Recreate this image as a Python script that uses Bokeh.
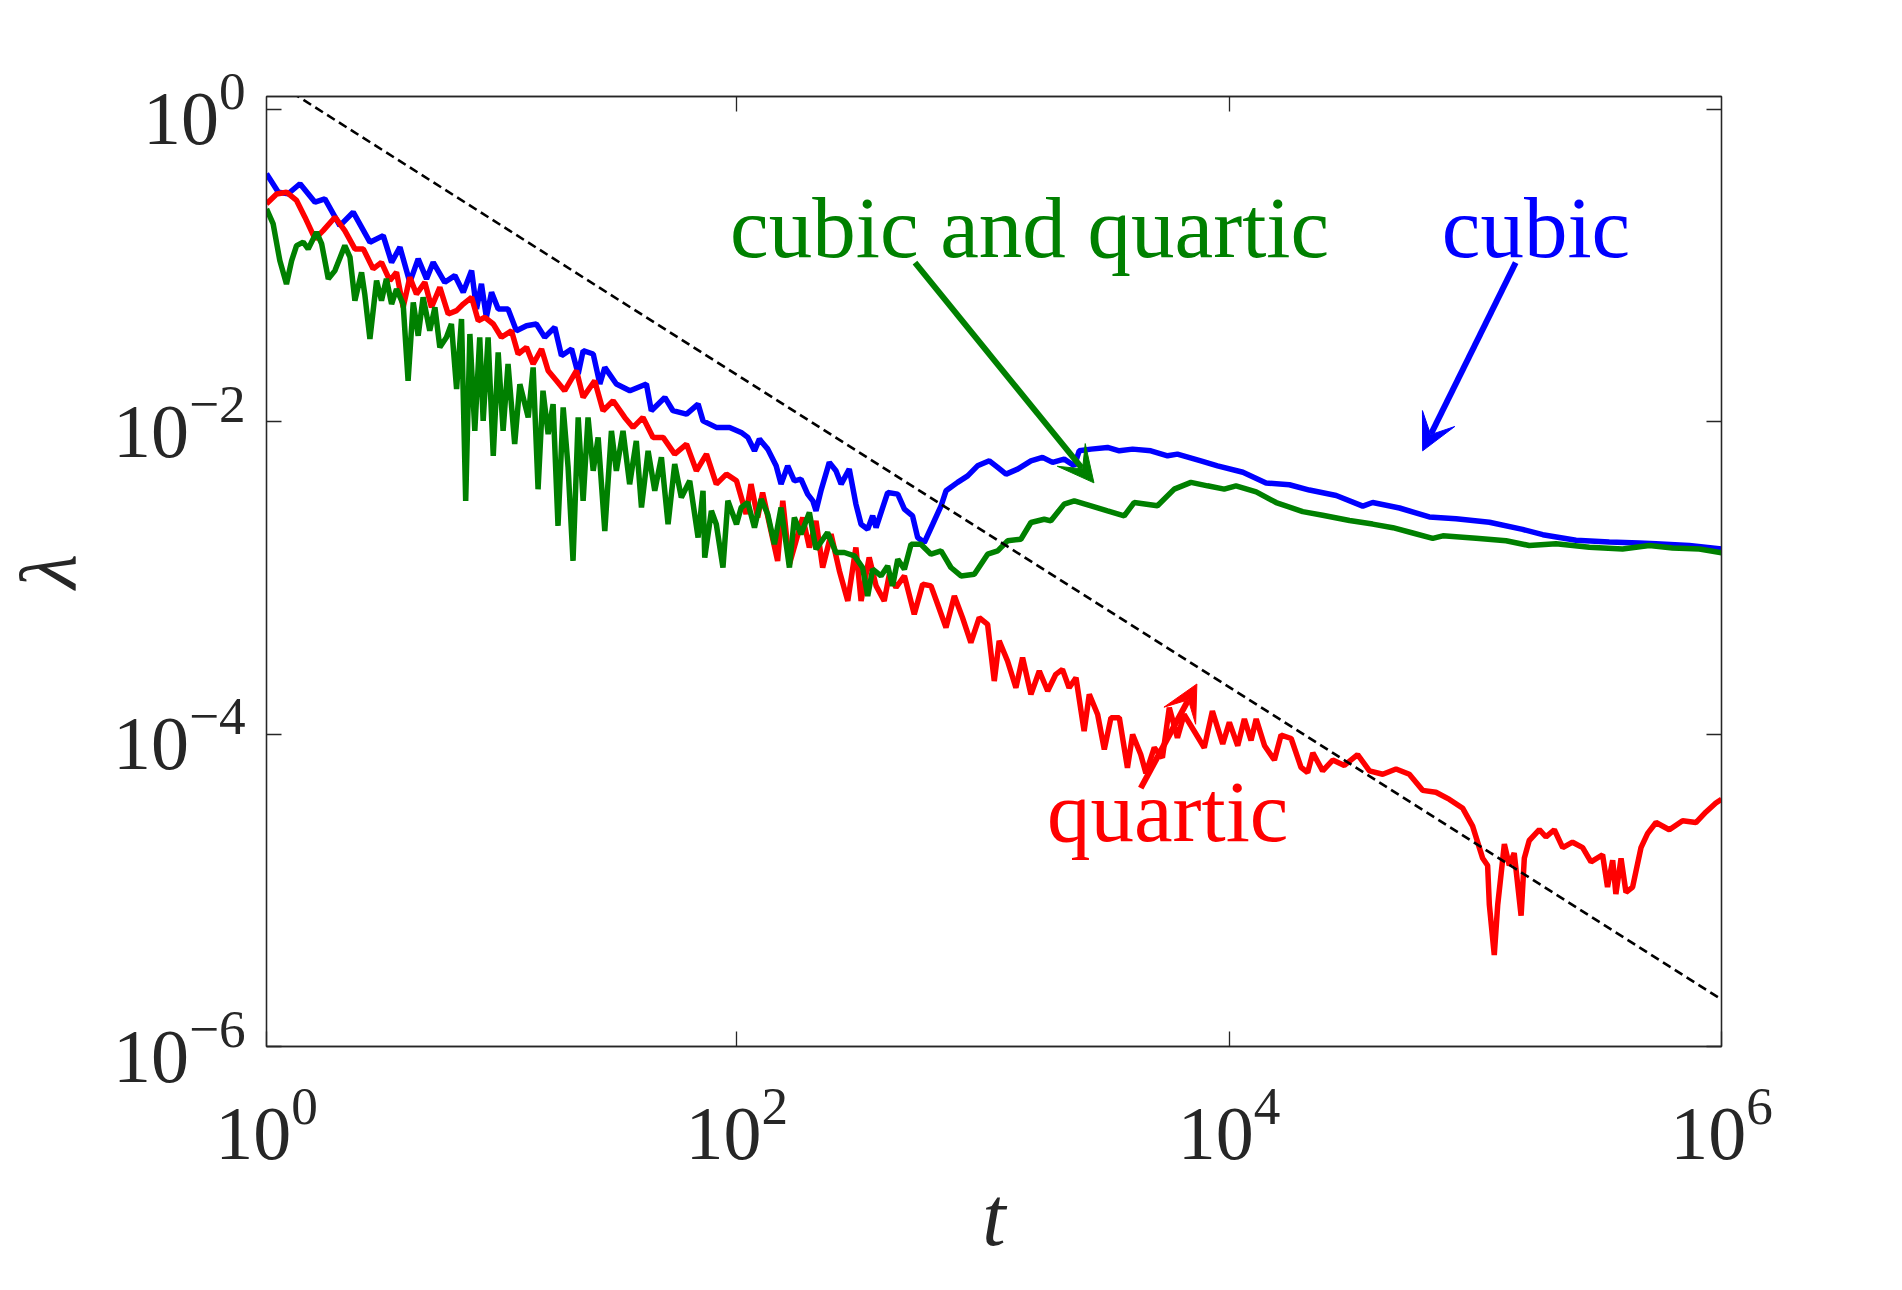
import numpy as np
from bokeh.plotting import figure
from bokeh.models import (Range1d, LogAxis, FixedTicker, Label, Arrow, VeeHead,
                          CustomJSTickFormatter)
from bokeh.embed import file_html
from bokeh.resources import INLINE

# ---------------- data (as log10 values) ----------------
blue_log_t = [0.090, 0.138, 0.178, 0.226, 0.287, 0.327, 0.388, 0.442, 0.510, 0.564, 0.598, 0.632, 0.672,
              0.706, 0.740, 0.767, 0.814, 0.855, 0.889, 0.923, 0.943, 0.963, 0.983, 1.004, 1.031, 1.071,
              1.105, 1.146, 1.186, 1.220, 1.261, 1.288, 1.329, 1.356, 1.376, 1.417, 1.444, 1.464, 1.511,
              1.566, 1.633, 1.653, 1.708, 1.741, 1.796, 1.843, 1.863, 1.917, 1.971,
              2.018, 2.045, 2.072, 2.092, 2.126, 2.160, 2.180, 2.207, 2.234, 2.261, 2.288, 2.309, 2.322,
              2.342, 2.376, 2.403, 2.424, 2.457, 2.484, 2.505, 2.532, 2.552, 2.566, 2.613, 2.654, 2.681,
              2.714, 2.735, 2.762, 2.796, 2.830, 2.850, 2.897, 2.938, 2.978, 3.026, 3.060, 3.094, 3.141,
              3.195, 3.242, 3.283, 3.330, 3.371, 3.391, 3.439, 3.506, 3.554, 3.608, 3.682, 3.750, 3.790,
              3.885, 3.953,
              4.056, 4.150, 4.245, 4.326, 4.435, 4.543, 4.583, 4.692, 4.813, 4.922, 5.057, 5.192, 5.274,
              5.409, 5.544, 5.666, 5.734, 5.869, 6.000]
blue_log_lam = [-0.412, -0.530, -0.540, -0.476, -0.594, -0.573, -0.744, -0.658, -0.850, -0.808, -0.979, -0.882, -1.107,
                -0.957, -1.085, -0.979, -1.107, -1.064, -1.171, -1.032, -1.278, -1.117, -1.331, -1.171, -1.278, -1.278,
                -1.417, -1.385, -1.374, -1.459, -1.395, -1.577, -1.534, -1.694, -1.545, -1.566, -1.758, -1.652, -1.758,
                -1.801, -1.758, -1.929, -1.844, -1.929, -1.951, -1.887, -1.994, -2.036, -2.036,
                -2.068, -2.100, -2.186, -2.111, -2.175, -2.282, -2.399, -2.282, -2.378, -2.367, -2.463, -2.506, -2.570,
                -2.442, -2.260, -2.314, -2.399, -2.303, -2.527, -2.656, -2.688, -2.602, -2.677, -2.453, -2.463, -2.559,
                -2.602, -2.741, -2.773, -2.656, -2.538, -2.442, -2.388, -2.346, -2.282, -2.250, -2.292, -2.335, -2.303,
                -2.250, -2.228, -2.260, -2.239, -2.282, -2.186, -2.175, -2.164, -2.186, -2.175, -2.186, -2.218, -2.207,
                -2.250, -2.282,
                -2.323, -2.392, -2.403, -2.437, -2.472, -2.540, -2.517, -2.552, -2.609, -2.621, -2.643, -2.689, -2.723,
                -2.758, -2.769, -2.776, -2.781, -2.792, -2.815]

red_log_t = [0.090, 0.131, 0.171, 0.212, 0.246, 0.287, 0.320, 0.368, 0.408, 0.449, 0.483, 0.523, 0.557,
             0.591, 0.618, 0.645, 0.672, 0.699, 0.733, 0.760, 0.794, 0.828, 0.862, 0.889, 0.923, 0.950,
             0.977, 1.011, 1.044, 1.085, 1.112, 1.146, 1.173, 1.207, 1.234, 1.268, 1.301, 1.349, 1.376,
             1.423, 1.457, 1.498, 1.545, 1.579, 1.619, 1.660, 1.701, 1.748, 1.796, 1.836, 1.877, 1.917,
             1.958, 1.999,
             2.038, 2.058, 2.085, 2.105, 2.133, 2.166, 2.187, 2.214, 2.241, 2.268, 2.295, 2.322, 2.349,
             2.383, 2.417, 2.451, 2.484, 2.505, 2.538, 2.566, 2.599, 2.620, 2.647, 2.681, 2.721, 2.755,
             2.789, 2.816, 2.850, 2.884, 2.917, 2.951, 2.985, 3.019, 3.046, 3.066, 3.100, 3.134, 3.161,
             3.195, 3.229, 3.263, 3.296, 3.323, 3.350, 3.378, 3.411, 3.432, 3.466, 3.493, 3.520, 3.554,
             3.587, 3.608, 3.641, 3.662, 3.696, 3.729, 3.757, 3.790, 3.817, 3.858, 3.899, 3.932,
             3.974, 4.001, 4.035, 4.062, 4.089, 4.110, 4.144, 4.184, 4.211, 4.252, 4.292, 4.319, 4.340,
             4.380, 4.421, 4.468, 4.522, 4.570, 4.624, 4.678, 4.732, 4.786, 4.840, 4.895, 4.949, 4.989,
             5.030, 5.050, 5.057, 5.077, 5.091, 5.118, 5.138, 5.158, 5.186, 5.199, 5.219, 5.260, 5.287,
             5.321, 5.355, 5.395, 5.436, 5.470, 5.517, 5.537, 5.558, 5.571, 5.592, 5.612, 5.639, 5.673,
             5.700, 5.734, 5.788, 5.842, 5.896, 5.937, 5.977, 6.000]
red_log_lam = [-0.605, -0.541, -0.530, -0.583, -0.690, -0.829, -0.776, -0.690, -0.776, -0.893, -0.893, -1.021, -0.979,
               -1.096, -1.043, -1.267, -1.075, -1.182, -1.107, -1.267, -1.139, -1.310, -1.288, -1.246, -1.203, -1.353,
               -1.331, -1.374, -1.459, -1.417, -1.566, -1.523, -1.630, -1.534, -1.673, -1.737, -1.801, -1.673, -1.844,
               -1.737, -1.929, -1.865, -1.972, -2.036, -1.972, -2.100, -2.100, -2.207, -2.143, -2.314, -2.207, -2.399,
               -2.335, -2.378,
               -2.591, -2.399, -2.613, -2.453, -2.656, -2.891, -2.506, -2.912, -2.762, -2.613, -2.805, -2.634, -2.933,
               -2.720, -2.955, -3.147, -2.805, -3.147, -2.869, -3.051, -3.147, -2.976, -3.061, -2.987, -3.232, -3.040,
               -3.051, -3.168, -3.318, -3.115, -3.254, -3.414, -3.254, -3.297, -3.660, -3.403, -3.532, -3.703, -3.510,
               -3.745, -3.596, -3.724, -3.617, -3.585, -3.703, -3.639, -3.980, -3.745, -3.874, -4.098, -3.895, -3.895,
               -4.215, -4.002, -4.130, -4.250, -4.087, -4.151, -3.831, -4.023, -3.874, -3.980, -4.087, -3.852,
               -4.063, -3.925, -4.074, -3.903, -4.040, -3.903, -4.074, -4.166, -4.006, -4.028, -4.212, -4.246, -4.120,
               -4.235, -4.166, -4.200, -4.131, -4.235, -4.257, -4.223, -4.257, -4.360, -4.372, -4.418, -4.475, -4.589,
               -4.795, -4.841, -5.093, -5.414, -5.093, -4.704, -4.841, -4.761, -5.162, -4.795, -4.681, -4.612, -4.658,
               -4.612, -4.727, -4.692, -4.727, -4.818, -4.772, -4.979, -4.807, -5.024, -4.795, -5.013, -4.979, -4.727,
               -4.635, -4.566, -4.612, -4.555, -4.566, -4.498, -4.441, -4.418]

green_log_t = [0.090, 0.117, 0.144, 0.171, 0.192, 0.212, 0.239, 0.259, 0.293, 0.314, 0.341, 0.368, 0.408,
               0.429, 0.449, 0.476, 0.489, 0.510, 0.537, 0.557, 0.577, 0.598, 0.618, 0.645, 0.665, 0.686,
               0.706, 0.726, 0.753, 0.774, 0.794, 0.821, 0.841, 0.862, 0.882, 0.899, 0.916, 0.936, 0.956,
               0.970, 0.990, 1.011, 1.031, 1.051, 1.071, 1.098, 1.119, 1.153, 1.173, 1.193, 1.213, 1.234,
               1.254, 1.274, 1.295, 1.315, 1.335, 1.356, 1.376, 1.396, 1.417, 1.437, 1.464, 1.491, 1.511,
               1.538, 1.565, 1.592, 1.613, 1.640, 1.667, 1.694, 1.721, 1.748, 1.775, 1.809, 1.843, 1.863,
               1.870, 1.897, 1.917, 1.944, 1.964, 1.999,
               2.018, 2.045, 2.072, 2.099, 2.126, 2.153, 2.180, 2.214, 2.234, 2.261, 2.295, 2.322, 2.369,
               2.403, 2.437, 2.478, 2.511, 2.532, 2.552, 2.586, 2.613, 2.633, 2.654, 2.681, 2.708, 2.748,
               2.789, 2.830, 2.870, 2.911, 2.965, 3.019, 3.060, 3.100, 3.154, 3.195, 3.249, 3.276, 3.330,
               3.371, 3.439, 3.506, 3.574, 3.614, 3.709, 3.777, 3.845, 3.912, 3.980,
               4.028, 4.110, 4.191, 4.299, 4.380, 4.489, 4.583, 4.665, 4.746, 4.827, 4.868, 5.003, 5.125,
               5.219, 5.328, 5.463, 5.598, 5.707, 5.801, 5.910, 6.000]
green_log_lam = [-0.637, -0.733, -0.968, -1.118, -0.968, -0.872, -0.850, -0.893, -0.786, -0.861, -1.085, -1.032, -0.872,
                 -0.946, -1.224, -1.043, -1.182, -1.470, -1.096, -1.224, -1.085, -1.246, -1.150, -1.246, -1.737, -1.235,
                 -1.449, -1.203, -1.417, -1.267, -1.523, -1.459, -1.374, -1.791, -1.342, -2.506, -1.438, -2.058, -1.459,
                 -1.994, -1.459, -2.218, -1.556, -2.058, -1.630, -2.143, -1.759, -1.972, -1.652, -2.432, -1.801, -2.079,
                 -1.887, -2.667, -1.908, -2.293, -2.891, -1.972, -2.506, -1.972, -2.314, -2.100, -2.699, -2.058, -2.314,
                 -2.058, -2.400, -2.122, -2.549, -2.186, -2.442, -2.228, -2.656, -2.271, -2.485, -2.378, -2.741, -2.442,
                 -2.870, -2.570, -2.656, -2.934, -2.506, -2.656,
                 -2.549, -2.517, -2.677, -2.495, -2.592, -2.784, -2.549, -2.933, -2.613, -2.720, -2.581, -2.816, -2.709,
                 -2.837, -2.837, -2.859, -2.933, -3.115, -2.944, -2.987, -2.923, -3.051, -2.880, -2.944, -2.784, -2.784,
                 -2.848, -2.827, -2.933, -2.987, -2.976, -2.848, -2.827, -2.762, -2.752, -2.645, -2.624, -2.634, -2.527,
                 -2.506, -2.538, -2.570, -2.602, -2.517, -2.538, -2.431, -2.388, -2.410, -2.431,
                 -2.410, -2.449, -2.517, -2.575, -2.598, -2.632, -2.655, -2.678, -2.712, -2.746, -2.730, -2.746, -2.762,
                 -2.792, -2.781, -2.804, -2.815, -2.792, -2.808, -2.815, -2.838]

# dashed reference line lambda = 2/t
ref_t = [1.0, 1.0e6]
ref_lam = [2.0, 2.0e-6]

# axis limits and ticks
x_lo, x_hi = 1.23, 1.0e6
y_lo, y_hi = 1.0e-6, 1.21
x_ticks = [x_lo, 1e2, 1e4, 1e6]      # left edge carries the 10^0 label
y_ticks = [1.0, 1e-2, 1e-4, 1e-6]

# annotations (log10 positions)
notes = ["cubic and quartic", "cubic", "quartic"]
note_colors = ["#008000", "#0000ff", "#ff0000"]
note_log_x = [1.973, 4.864, 3.260]
note_log_y = [-0.949, -0.949, -4.609]
note_dy = [30, 30, 18]
arrow_log_start = [(2.724, -0.981), (5.164, -0.981), (3.641, -4.346)]
arrow_log_end = [(3.451, -2.391), (4.786, -2.186), (3.869, -3.679)]

# ---------------- figure ----------------
INK = "#262626"
FONT = "Liberation Serif"

p = figure(width=1886, height=1274, x_axis_type="log", y_axis_type="log",
           x_range=Range1d(x_lo, x_hi), y_range=Range1d(y_lo, y_hi),
           output_backend="svg", toolbar_location=None,
           min_border_left=265, min_border_right=165, min_border_top=96, min_border_bottom=228)
p.grid.visible = False
p.background_fill_color = "white"
p.border_fill_color = "white"
p.outline_line_color = INK
p.outline_line_width = 1.3

top_ax = LogAxis(formatter=CustomJSTickFormatter(code="return ''"), major_label_text_font_size="1px")
right_ax = LogAxis(formatter=CustomJSTickFormatter(code="return ''"), major_label_text_font_size="1px")
p.add_layout(top_ax, "above")
p.add_layout(right_ax, "right")

bx = p.below[0]
ly = p.left[0]
bx.ticker = FixedTicker(ticks=x_ticks, minor_ticks=[])
top_ax.ticker = FixedTicker(ticks=[1e2, 1e4], minor_ticks=[])
ly.ticker = FixedTicker(ticks=y_ticks, minor_ticks=[])
right_ax.ticker = FixedTicker(ticks=y_ticks, minor_ticks=[])

for ax in (bx, ly, top_ax, right_ax):
    ax.major_tick_in = 15
    ax.major_tick_out = 0
    ax.minor_tick_in = 0
    ax.minor_tick_out = 0
    ax.axis_line_color = INK
    ax.axis_line_width = 1.3
    ax.major_tick_line_color = INK
    ax.major_tick_line_width = 1.3

bx.major_label_text_font = FONT
bx.major_label_text_font_size = "76px"
bx.major_label_text_color = INK
bx.major_label_standoff = 42
bx.axis_label = "t"
bx.axis_label_text_font = FONT
bx.axis_label_text_font_style = "italic"
bx.axis_label_text_font_size = "84px"
bx.axis_label_text_color = INK
bx.axis_label_standoff = 8

ly.major_label_text_font = FONT
ly.major_label_text_font_size = "76px"
ly.major_label_text_color = INK
ly.major_label_standoff = 21
ly.axis_label = "λ"
ly.axis_label_text_font = FONT
ly.axis_label_text_font_style = "italic"
ly.axis_label_text_font_size = "80px"
ly.axis_label_text_color = INK
ly.axis_label_standoff = 18

lw = 5.5
p.line(10 ** np.array(blue_log_t), 10 ** np.array(blue_log_lam), line_color="#0000ff", line_width=lw)
p.line(10 ** np.array(red_log_t), 10 ** np.array(red_log_lam), line_color="#ff0000", line_width=lw)
p.line(10 ** np.array(green_log_t), 10 ** np.array(green_log_lam), line_color="#008000", line_width=lw)
p.line(ref_t, ref_lam, line_color="black", line_width=2.6, line_dash="9 5")

for txt, col, lx, lyv, dy in zip(notes, note_colors, note_log_x, note_log_y, note_dy):
    p.add_layout(Label(x=10 ** lx, y=10 ** lyv, y_offset=dy, text=txt, text_font=FONT,
                       text_font_size="87px", text_color=col, text_align="left",
                       text_baseline="alphabetic"))
for (sx, sy), (ex, ey), col in zip(arrow_log_start, arrow_log_end, note_colors):
    p.add_layout(Arrow(x_start=10 ** sx, y_start=10 ** sy, x_end=10 ** ex, y_end=10 ** ey,
                       line_color=col, line_width=6,
                       end=VeeHead(size=36, fill_color=col, line_color=col, line_width=1)))

open("out.html", "w").write(file_html(p, INLINE))
